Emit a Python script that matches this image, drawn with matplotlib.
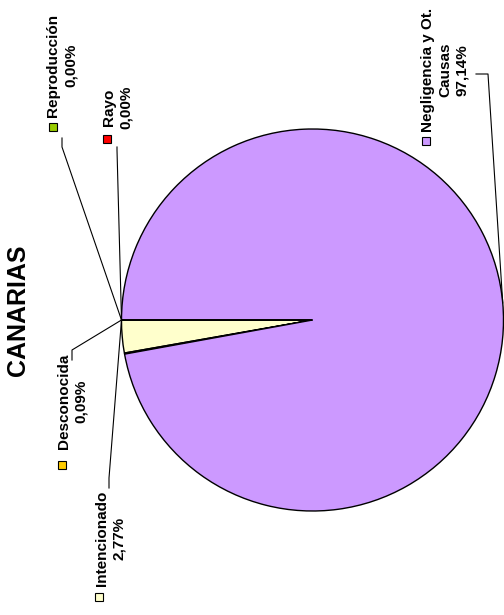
import numpy as np
import matplotlib.pyplot as plt
from matplotlib.lines import Line2D
from matplotlib.patches import Rectangle

plt.rcParams["font.family"] = ["Liberation Sans", "DejaVu Sans"]

title = "CANARIAS"
categories = ["Intencionado", "Desconocida", "Negligencia y Ot.\nCausas", "Reproducción", "Rayo"]
values = [2.77, 0.09, 97.14, 0.00, 0.00]
colors = ["#FFFFCC", "#FFCC00", "#CC99FF", "#99CC00", "#FF0000"]

W, H = 504, 615
fig = plt.figure(figsize=(W / 100, H / 100), dpi=100)


def px(x, y):
    # pixel position (from top-left) -> figure fraction
    return (x / W, 1 - y / H)


cx, cy, r = 312.5, 320, 191
ax = fig.add_axes([(cx - r) / W, 1 - (cy + r) / H, 2 * r / W, 2 * r / H])
wedges, _ = ax.pie(values, colors=colors, startangle=180, counterclock=True,
                   wedgeprops=dict(edgecolor="black", linewidth=1))
ax.set_xlim(-1, 1)
ax.set_ylim(-1, 1)


def edge(angle):
    a = np.radians(angle)
    p = ax.transData.transform((np.cos(a), np.sin(a)))
    return tuple(fig.transFigure.inverted().transform(p))


pie_point = edge(wedges[0].theta1)
neg_point = edge((wedges[2].theta1 + wedges[2].theta2) / 2)

# label block centre, key square centre, leader start points (pixels)
label_pos = [(110.5, 538), (72.5, 401), (445, 70), (62, 65), (117.5, 107)]
key_pos = [(99, 597), (62, 465), (426, 141), (53, 127), (107, 139)]
leaders = [
    ([(109, 488), (109, 478)], pie_point),
    ([(72, 360), (72, 350)], pie_point),
    ([(476, 74), (488, 74)], neg_point),
    ([(62, 138), (62, 147)], pie_point),
    ([(117, 147), (117, 150)], pie_point),
]

for name, v, c, (lx, ly), (kx, ky), (pts, end) in zip(
        categories, values, colors, label_pos, key_pos, leaders):
    txt = name + "\n" + f"{v:.2f}".replace(".", ",") + "%"
    fig.text(*px(lx, ly), txt, rotation=90, ha="center", va="center",
             fontsize=11, fontweight="bold", multialignment="center",
             linespacing=1.3)
    fig.add_artist(Rectangle(px(kx - 4, ky + 4), 8 / W, 8 / H,
                             transform=fig.transFigure, facecolor=c,
                             edgecolor="black", linewidth=0.8))
    xs = [px(*p)[0] for p in pts] + [end[0]]
    ys = [px(*p)[1] for p in pts] + [end[1]]
    fig.add_artist(Line2D(xs, ys, transform=fig.transFigure,
                          color="black", linewidth=0.8))

fig.text(*px(18, 310), title, rotation=90, ha="center", va="center",
         fontsize=18, fontweight="bold")

fig.savefig("out.png", dpi=100)
